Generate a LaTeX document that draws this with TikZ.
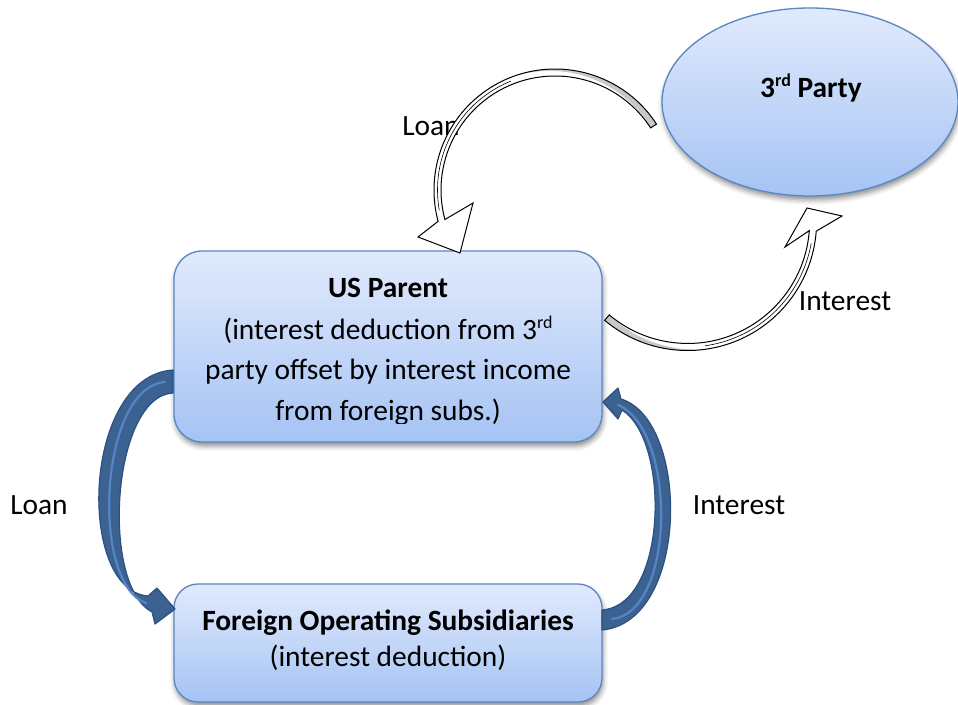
\documentclass[tikz,border=0pt]{standalone}
\usepackage{fontspec}
\setmainfont{Carlito}
\usetikzlibrary{shapes.geometric,shadows.blur}
\definecolor{boxtop}{HTML}{E1EAFC}
\definecolor{boxbot}{HTML}{A5C3F4}
\definecolor{boxline}{HTML}{5A87C2}
\definecolor{arrfill}{HTML}{3C6292}
\definecolor{arrline}{HTML}{2E5080}
\definecolor{arrhi}{HTML}{5585C4}
\definecolor{bandgray}{HTML}{C8C8C8}
\newcommand\mysup[1]{\raisebox{10.5pt}{\fontsize{18}{18}\selectfont #1}}
\tikzset{
  boxshape/.style={draw=boxline, line width=1.3pt, top color=boxtop, bottom color=boxbot,
    blur shadow={shadow xshift=1pt, shadow yshift=-4pt, shadow blur radius=5pt, shadow opacity=45}},
  txt/.style={font=\fontsize{29.4}{35}\selectfont, anchor=base, inner sep=0pt},
  btxt/.style={font=\fontsize{29.4}{35}\selectfont\bfseries, anchor=base, inner sep=0pt},
  bluearrow/.style={fill=arrfill, draw=arrline, line width=1.2pt, line join=round},
  bandline/.style={draw=black, line width=1pt, line join=miter},
}
\begin{document}
\begin{tikzpicture}[x=1pt,y=-1pt]
\useasboundingbox (0,0) rectangle (958,704);

% nodes
\node[boxshape, ellipse, minimum width=296pt, minimum height=188pt, inner sep=0pt] (tp) at (810,102) {};
\node[boxshape, rectangle, rounded corners=28pt, minimum width=428pt, minimum height=191pt] (us) at (388,346.5) {};
\node[boxshape, rectangle, rounded corners=24pt, minimum width=428pt, minimum height=118pt] (fo) at (388,643) {};

% texts
\node[btxt] (tptxt) at (811,97) {3\mysup{rd} Party};
\node[btxt] (us1) at (388,297) {US Parent};
\node[txt] (us2) at (388,339) {(interest deduction from 3\mysup{rd}};
\node[txt] (us3) at (388,379) {party offset by interest income};
\begin{scope}
  \clip (173,250) rectangle (603,423);
  \node[txt] (us4) at (388,420) {from foreign subs.)};
\end{scope}
\node[btxt] (fo1) at (388,630) {Foreign Operating Subsidiaries};
\node[txt] (fo2) at (388,666) {(interest deduction)};

\node[txt] (lbl1) at (431,135) {Loan};
\node[txt] (lbl2) at (845,310) {Interest};
\node[txt] (lbl3) at (39,514) {Loan};
\node[txt] (lbl4) at (739,514) {Interest};

% top loan arrow (3rd party -> US parent)
\coordinate (c1) at (555,190);
\fill[white] (c1) ++(-33:121) arc[start angle=-33, end angle=-195, radius=121]
   -- (418,237) -- (460,253) -- (473,203) -- (444.9,219.5)
   arc[start angle=-195, end angle=-33, radius=114] -- cycle;
\fill[bandgray] plot[domain=-33:-112, samples=40] ({555+121*cos(\x)},{190+121*sin(\x)})
   -- plot[domain=-112:-33, samples=40] ({555+(121-7*(\x+112)/79)*cos(\x)},{190+(121-7*(\x+112)/79)*sin(\x)}) -- cycle;
\draw[bandline] (c1) ++(-33:121) arc[start angle=-33, end angle=-195, radius=121]
   -- (418,237) -- (460,253) -- (473,203) -- (444.9,219.5)
   arc[start angle=-195, end angle=-33, radius=114] -- cycle;
\draw[line width=0.6pt] plot[domain=-112:-190, samples=40] ({555+117.5*cos(\x)},{190+117.5*sin(\x)});

% interest arrow (US parent -> 3rd party)
\coordinate (c2) at (687.6,221.5);
\fill[white] (c2) ++(-230:129) arc[start angle=-230, end angle=-355.7, radius=129]
   -- (842,216) -- (807,208) -- (785,247) -- (809.3,230.6)
   arc[start angle=-355.7, end angle=-230, radius=122] -- cycle;
\fill[bandgray] plot[domain=-230:-278, samples=40] ({687.6+129*cos(\x)},{221.5+129*sin(\x)})
   -- plot[domain=-278:-230, samples=40] ({687.6+(129-7*(\x+278)/48)*cos(\x)},{221.5+(129-7*(\x+278)/48)*sin(\x)}) -- cycle;
\draw[bandline] (c2) ++(-230:129) arc[start angle=-230, end angle=-355.7, radius=129]
   -- (842,216) -- (807,208) -- (785,247) -- (809.3,230.6)
   arc[start angle=-355.7, end angle=-230, radius=122] -- cycle;
\draw[line width=0.6pt] plot[domain=-278:-350, samples=40] ({687.6+125.5*cos(\x)},{221.5+125.5*sin(\x)});

% blue loan arrow (US parent -> foreign subs)
\draw[bluearrow] (173,370) .. controls (82,376) and (76,590) .. (148,596)
   -- (157,588) -- (175,609) -- (155,624) -- (152,612)
   .. controls (100,585) and (112,396) .. (173,393) -- cycle;
\draw[arrhi, line width=2.2pt, line cap=round] (165,382) .. controls (99,387) and (90,584) .. (146,603);

% blue interest arrow (foreign subs -> US parent)
\draw[bluearrow] (602,630) .. controls (690,622) and (690,420) .. (621,399)
   -- (618,388) -- (603,402) -- (618,419) -- (622,410)
   .. controls (670,440) and (668,605) .. (602,610) -- cycle;
\draw[arrhi, line width=2.2pt, line cap=round] (618,405) .. controls (677,430) and (676,612) .. (612,619);
\end{tikzpicture}
\end{document}
